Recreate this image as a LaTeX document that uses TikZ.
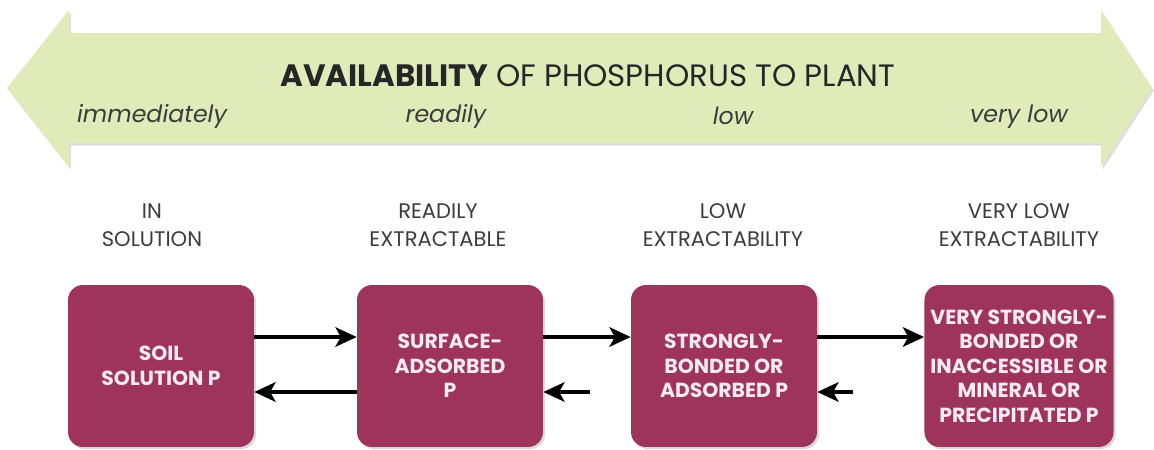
\documentclass[tikz,border=0pt]{standalone}
\usepackage{fontspec}
\setmainfont{Poppins}
\usetikzlibrary{arrows.meta,shadows}
\tikzset{>={Stealth[length=12pt,width=11pt,inset=3pt]}}
\definecolor{plum}{RGB}{158,52,92}
\definecolor{leaf}{RGB}{225,235,186}
\definecolor{pale}{RGB}{250,234,242}
\definecolor{ink}{RGB}{60,60,60}

\begin{document}
\begin{tikzpicture}[x=0.02cm,y=-0.02cm,
  pool/.style={fill=plum,rounded corners=0.3cm,minimum width=3.72cm,
    minimum height=3.24cm,align=center,text=pale,
    font=\fontsize{11.6}{14}\selectfont\bfseries,
    drop shadow={shadow xshift=1.2pt,shadow yshift=-1.2pt,opacity=0.3}},
  head/.style={align=center,text=ink,font=\fontsize{12}{16}\selectfont},
  rate/.style={text=ink,font=\fontsize{13.5}{16}\selectfont\itshape},
  flow/.style={->,line width=2.3pt}]
\useasboundingbox (0,0) rectangle (1154,450);
% availability band
\path[fill=leaf,drop shadow={shadow xshift=1pt,shadow yshift=-1.5pt,opacity=0.25}]
  (7,88) -- (69,10) -- (69,33) -- (1101,33) -- (1101,10) -- (1152,88)
  -- (1101,167) -- (1101,143) -- (69,143) -- (69,167) -- cycle;
\node[text=black!85,font=\fontsize{17.6}{20}\selectfont] (title) at (588,76)
  {\textbf{AVAILABILITY} OF PHOSPHORUS TO PLANT};
\node[rate] (rimm) at (152,117) {immediately};
\node[rate] (rready) at (446,117) {readily};
\node[rate] (rlow) at (733,116) {low};
\node[rate] (rvlow) at (1019,117) {very low};
% pools
\node[head] (hsol) at (152,225) {IN\\SOLUTION};
\node[head] (hready) at (438,225) {READILY\\EXTRACTABLE};
\node[head] (hlow) at (723,225) {LOW\\EXTRACTABILITY};
\node[head] (hvlow) at (1019,225) {VERY LOW\\EXTRACTABILITY};
\node[pool] (soil) at (161,366) {SOIL\\SOLUTION P};
\node[pool] (surface) at (450,366) {SURFACE-\\ADSORBED\\P};
\node[pool] (strong) at (724,366) {STRONGLY-\\BONDED OR\\ADSORBED P};
\node[pool] (mineral) at (1019,366) {VERY STRONGLY-\\BONDED OR\\INACCESSIBLE OR\\MINERAL OR\\PRECIPITATED P};
\coordinate (back2) at ([shift={(0.94cm,-0.52cm)}]surface.east);
\coordinate (back3) at ([shift={(0.72cm,-0.52cm)}]strong.east);
% transfers
\draw[flow] ([yshift=0.58cm]soil.east) -- ([yshift=0.58cm]surface.west);
\draw[flow] ([yshift=-0.52cm]surface.west) -- ([yshift=-0.52cm]soil.east);
\draw[flow] ([yshift=0.58cm]surface.east) -- ([yshift=0.58cm]strong.west);
\draw[flow] (back2) -- ([yshift=-0.52cm]surface.east);
\draw[flow] ([yshift=0.58cm]strong.east) -- ([yshift=0.58cm]mineral.west);
\draw[flow] (back3) -- ([yshift=-0.52cm]strong.east);
\end{tikzpicture}
\end{document}
